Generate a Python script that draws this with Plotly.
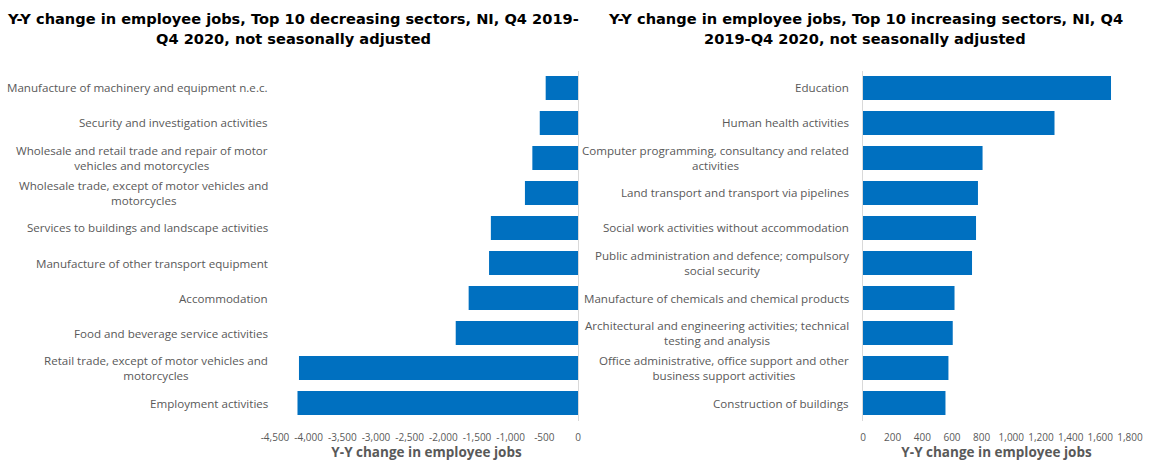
import plotly.graph_objects as go

# Top 10 decreasing sectors (top to bottom)
dec_sectors = [
    "Manufacture of machinery and equipment n.e.c.",
    "Security and investigation activities",
    "Wholesale and retail trade and repair of motor<br>vehicles and motorcycles",
    "Wholesale trade, except of motor vehicles and<br>motorcycles",
    "Services to buildings and landscape activities",
    "Manufacture of other transport equipment",
    "Accommodation",
    "Food and beverage service activities",
    "Retail trade, except of motor vehicles and<br>motorcycles",
    "Employment activities",
]
dec_values = [-480, -568, -678, -788, -1294, -1321, -1624, -1816, -4144, -4166]

# Top 10 increasing sectors (top to bottom)
inc_sectors = [
    "Education",
    "Human health activities",
    "Computer programming, consultancy and related<br>activities",
    "Land transport and transport via pipelines",
    "Social work activities without accommodation",
    "Public administration and defence; compulsory<br>social security",
    "Manufacture of chemicals and chemical products",
    "Architectural and engineering activities; technical<br>testing and analysis",
    "Office administrative, office support and other<br>business support activities",
    "Construction of buildings",
]
inc_values = [1672, 1291, 806, 775, 762, 735, 617, 605, 576, 556]

dec_ticks = [-4500, -4000, -3500, -3000, -2500, -2000, -1500, -1000, -500, 0]
dec_ticktext = ["-4,500", "-4,000", "-3,500", "-3,000", "-2,500", "-2,000",
                "-1,500", "-1,000", "-500", "0"]
inc_ticks = [0, 200, 400, 600, 800, 1000, 1200, 1400, 1600, 1800]
inc_ticktext = ["0", "200", "400", "600", "800", "1,000", "1,200", "1,400",
                "1,600", "1,800"]

title_left = ["Y-Y change in employee jobs, Top 10 decreasing sectors, NI, Q4 2019-",
              "Q4 2020, not seasonally adjusted"]
title_right = ["Y-Y change in employee jobs, Top 10 increasing sectors, NI, Q4",
               "2019-Q4 2020, not seasonally adjusted"]
axis_title = "Y-Y change in employee jobs"

W, H = 1150, 463
BAR = "#0070C0"
GREY = "#595959"
LBL_FONT = "Open Sans"

left_dom = [275 / W, 578 / W]
right_dom = [863 / W, 1130 / W]
y_dom = [(H - 420.5) / H, (H - 70.5) / H]

fig = go.Figure()
fig.add_trace(go.Bar(
    x=dec_values, y=dec_sectors, orientation="h",
    marker=dict(color=BAR, line=dict(width=0)),
    xaxis="x", yaxis="y", showlegend=False,
))
fig.add_trace(go.Bar(
    x=inc_values, y=inc_sectors, orientation="h",
    marker=dict(color=BAR, line=dict(width=0)),
    xaxis="x2", yaxis="y2", showlegend=False,
))

xcommon = dict(
    showgrid=False, zeroline=False, showline=False, ticks="",
    tickangle=0, automargin=False, ticklabelstandoff=9,
    tickfont=dict(family=LBL_FONT, size=10, color=GREY),
    title=dict(text=axis_title, font=dict(family=LBL_FONT, size=13.5, color=GREY,
                                          weight="bold"), standoff=3),
)
ycommon = dict(
    domain=y_dom, autorange="reversed", automargin=False,
    showticklabels=False, showgrid=False, ticks="",
    showline=True, linecolor="#D9D9D9", linewidth=1,
)
fig.update_layout(
    width=W, height=H,
    margin=dict(l=0, r=0, t=0, b=0),
    paper_bgcolor="white", plot_bgcolor="white",
    bargap=0.32,
    xaxis=dict(domain=left_dom, anchor="y", range=[-4500, 0],
               tickvals=dec_ticks, ticktext=dec_ticktext, **xcommon),
    yaxis=dict(anchor="x", side="right", **ycommon),
    xaxis2=dict(domain=right_dom, anchor="y2", range=[0, 1800],
                tickvals=inc_ticks, ticktext=inc_ticktext, **xcommon),
    yaxis2=dict(anchor="x2", side="left", **ycommon),
)

# Category labels, centred line by line and right-aligned against the plot
for names, yref, xpos in ((dec_sectors, "y", 270 / W), (inc_sectors, "y2", 851 / W)):
    for name in names:
        fig.add_annotation(
            text=name, x=xpos, xref="paper", y=name, yref=yref,
            xanchor="right", yanchor="middle", align="center",
            showarrow=False,
            font=dict(family=LBL_FONT, size=11.6, color=GREY),
        )

# Chart titles, one annotation per line
for lines, xc in ((title_left, 293 / W), (title_right, 865 / W)):
    for line, yc in zip(lines, (18, 39)):
        fig.add_annotation(
            text=line, x=xc, xref="paper", y=1 - yc / H, yref="paper",
            xanchor="center", yanchor="middle", showarrow=False,
            font=dict(family="DejaVu Sans", size=14.6, color="black", weight="bold"),
        )

fig.write_html("out.html")
